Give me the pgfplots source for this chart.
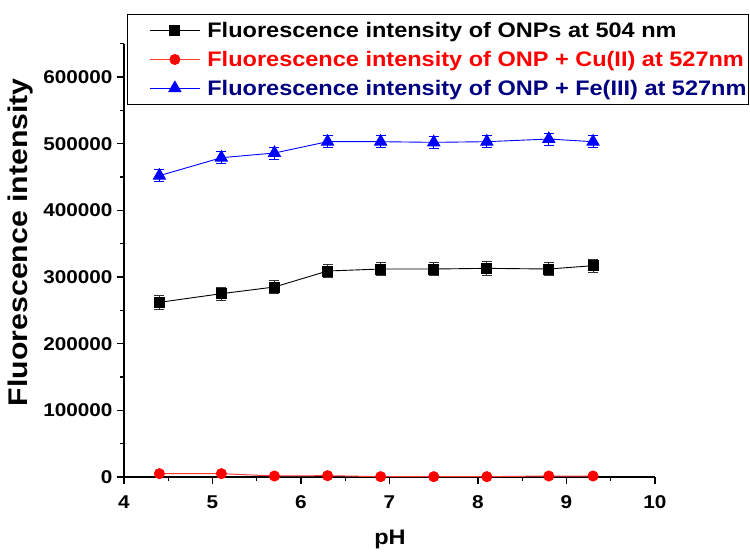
\documentclass[border=0pt]{standalone}
\usepackage{pgfplots}
\pgfplotsset{compat=1.18}
\usepackage{fontspec}
\setmainfont{Liberation Sans}[FakeStretch=1.12]
\definecolor{navyt}{RGB}{0,0,128}
\definecolor{redl}{RGB}{255,60,60}
\pgfplotstableread{
x y e
4.4 262000 10000
5.1 275000 10000
5.7 285000 10000
6.3 309000 10000
6.9 312000 10000
7.5 312000 10000
8.1 313000 10000
8.8 312000 10000
9.3 317000 10000
}\onp
\pgfplotstableread{
x y e
4.4 5000 1500
5.1 5000 1500
5.7 1500 1000
6.3 2000 1000
6.9 500 800
7.5 500 800
8.1 500 800
8.8 1500 1000
9.3 1500 1000
}\cu
\pgfplotstableread{
x y e
4.4 452000 9000
5.1 479000 9000
5.7 486000 9000
6.3 503000 9000
6.9 503000 9000
7.5 502000 9000
8.1 503000 9000
8.8 507000 9000
9.3 503000 9000
}\fe
\begin{document}
\begin{tikzpicture}
\useasboundingbox (0,0) rectangle (750bp,552bp);
\begin{axis}[
  at={(124bp,75bp)}, anchor=south west,
  width=531bp, height=433.3bp, scale only axis,
  xmin=4, xmax=10, ymin=0, ymax=650000,
  axis x line*=bottom, axis y line*=left,
  x axis line style={-, line width=1.4bp},
  y axis line style={-, line width=1.4bp},
  xtick={4,5,...,10},
  ytick={0,100000,...,600000},
  minor xtick={4.5,5.5,...,9.5},
  minor ytick={50000,150000,...,650000},
  tick align=outside,
  major tick length=7bp, minor tick length=4bp,
  every tick/.style={black, line width=1.2bp},
  scaled y ticks=false,
  yticklabel style={/pgf/number format/fixed, /pgf/number format/1000 sep={}, xshift=-1bp},
  xticklabel style={yshift=-8bp},
  /pgf/number format/assume math mode=true,
  tick label style={font=\bfseries\fontsize{18.5bp}{20bp}\selectfont},
  xlabel={pH}, ylabel={Fluorescence intensity},
  xlabel style={font=\bfseries\fontsize{21bp}{22bp}\selectfont, at={(axis description cs:0.501,-0.143)}, anchor=center},
  ylabel style={font=\bfseries\fontsize{27bp}{28bp}\selectfont, at={(axis description cs:-0.194,0.542)}, anchor=center},
  legend style={at={(axis description cs:0.0056,1.0685)}, anchor=north west, draw=black, line width=0.8bp,
    font=\bfseries\fontsize{21bp}{22bp}\selectfont, row sep=10bp, inner xsep=1bp, inner ysep=7bp,
    nodes={inner sep=1bp}},
  legend cell align=left,
  legend image code/.code={\path (-21bp,0bp) (56bp,0bp);\draw[#1, mark repeat=2, mark phase=2] plot coordinates {(0bp,0bp) (25bp,0bp) (50bp,0bp)};},
  legend plot pos=left,
]
\addplot[black, line width=0.9bp, mark=square*, mark size=5bp,
  error bars/.cd, y dir=both, y explicit, error bar style={black!80, line width=0.9bp},
  error mark options={rotate=90, mark size=5bp, black!80}]
  table[x=x, y=y, y error=e]{\onp};
\addlegendentry{Fluorescence intensity of ONPs at 504 nm}
\addplot[redl, line width=1bp, mark=*, mark size=5bp, mark options={red},
  error bars/.cd, y dir=both, y explicit, error bar style={red, line width=0.8bp},
  error mark options={rotate=90, mark size=4bp, red}]
  table[x=x, y=y, y error=e]{\cu};
\addlegendentry{\textcolor{red}{Fluorescence intensity of ONP + Cu(II) at 527nm}}
\addplot[blue, line width=0.9bp, mark=triangle*, mark size=7bp,
  error bars/.cd, y dir=both, y explicit, error bar style={blue, line width=0.9bp},
  error mark options={rotate=90, mark size=5bp, blue}]
  table[x=x, y=y, y error=e]{\fe};
\addlegendentry{\textcolor{navyt}{Fluorescence intensity of ONP + Fe(III) at 527nm}}
\end{axis}
\end{tikzpicture}
\end{document}
